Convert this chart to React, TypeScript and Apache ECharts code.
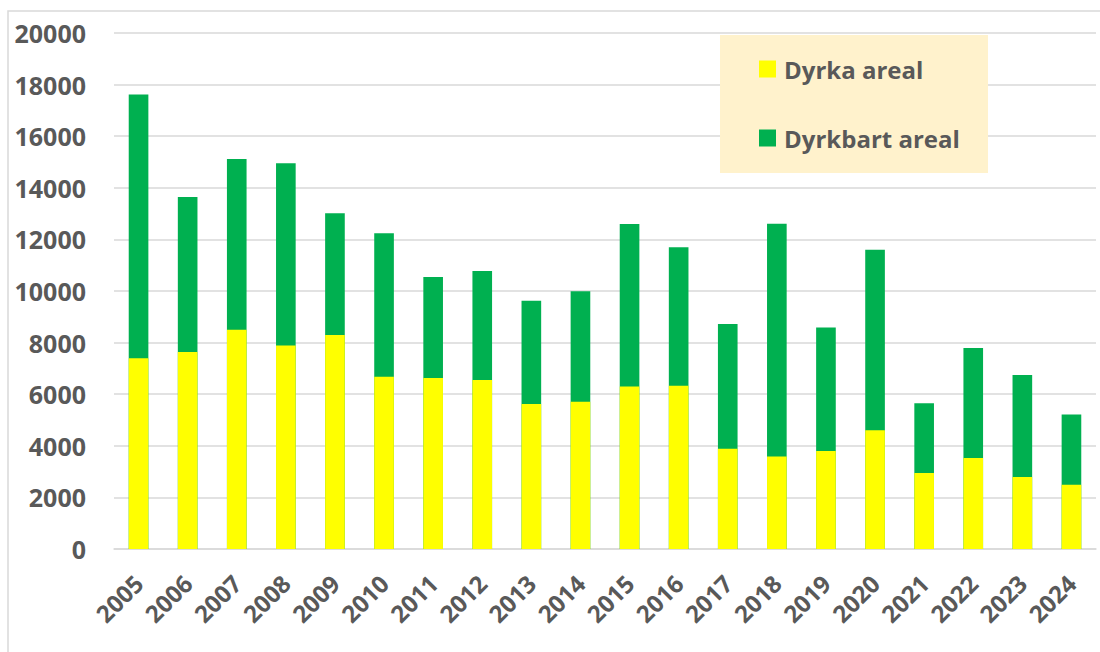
import React, { useEffect, useRef } from "react";
import * as echarts from "echarts";

const years = ["2005","2006","2007","2008","2009","2010","2011","2012","2013","2014","2015","2016","2017","2018","2019","2020","2021","2022","2023","2024"];
// Dyrka areal (cultivated area)
const dyrka = [7390,7640,8500,7890,8290,6680,6630,6550,5620,5710,6300,6330,3890,3590,3800,4600,2950,3530,2790,2490];
// Dyrkbart areal (cultivable area, total bar height)
const dyrkbart = [17620,13640,15120,14950,13010,12240,10540,10780,9620,9990,12600,11700,8720,12610,8590,11600,5650,7790,6740,5210];
const legendNames = ["Dyrka areal", "Dyrkbart areal"];

const FONT = "'Open Sans', sans-serif";
const GREY = "#595959";

export default function App() {
  const ref = useRef<HTMLDivElement>(null);
  useEffect(() => {
    if (!ref.current) return;
    const chart = echarts.init(ref.current, undefined, { renderer: "svg" });
    chart.setOption({
      animation: false,
      backgroundColor: "#ffffff",
      graphic: {
        elements: [
          {
            type: "rect",
            z: 0,
            silent: true,
            shape: { x: 8, y: 11, width: 1200, height: 800 },
            style: { fill: "none", stroke: "#D9D9D9", lineWidth: 1.5 },
          },
          {
            type: "rect",
            z: 5,
            silent: true,
            shape: { x: 720, y: 35, width: 268, height: 138 },
            style: { fill: "#FFF2CC" },
          },
        ],
      },
      legend: {
        z: 10,
        orient: "vertical",
        left: 759,
        top: 57,
        padding: 0,
        itemWidth: 17,
        itemHeight: 17,
        itemGap: 45,
        icon: "rect",
        data: legendNames,
        textStyle: {
          fontFamily: FONT,
          fontWeight: "bold",
          fontSize: 24,
          color: GREY,
          padding: [0, 0, 0, 3],
        },
      },
      grid: { left: 114, right: 4, top: 33, bottom: 103, containLabel: false },
      xAxis: {
        type: "category",
        data: years,
        axisLine: { show: true, lineStyle: { color: "#D9D9D9", width: 1.5 } },
        axisTick: { show: false },
        axisLabel: {
          interval: 0,
          rotate: 45,
          margin: 30,
          fontFamily: FONT,
          fontWeight: "bold",
          fontSize: 24,
          color: GREY,
        },
      },
      yAxis: {
        type: "value",
        min: 0,
        max: 20000,
        interval: 2000,
        axisLine: { show: false },
        axisTick: { show: false },
        splitLine: { lineStyle: { color: "#D9D9D9", width: 1.5 } },
        axisLabel: {
          margin: 28,
          fontFamily: FONT,
          fontWeight: "bold",
          fontSize: 25,
          color: GREY,
          formatter: (v: number) => String(v),
        },
      },
      series: [
        {
          name: legendNames[1],
          type: "bar",
          data: dyrkbart,
          barGap: "-100%",
          barCategoryGap: "60%",
          itemStyle: { color: "#00B050" },
        },
        {
          name: legendNames[0],
          type: "bar",
          data: dyrka,
          barGap: "-100%",
          barCategoryGap: "60%",
          itemStyle: { color: "#FFFF00" },
        },
      ],
    });
    return () => chart.dispose();
  }, []);
  return (
    <div
      ref={ref}
      style={{ position: "absolute", left: 0, top: 0, width: 1100, height: 652 }}
    />
  );
}
